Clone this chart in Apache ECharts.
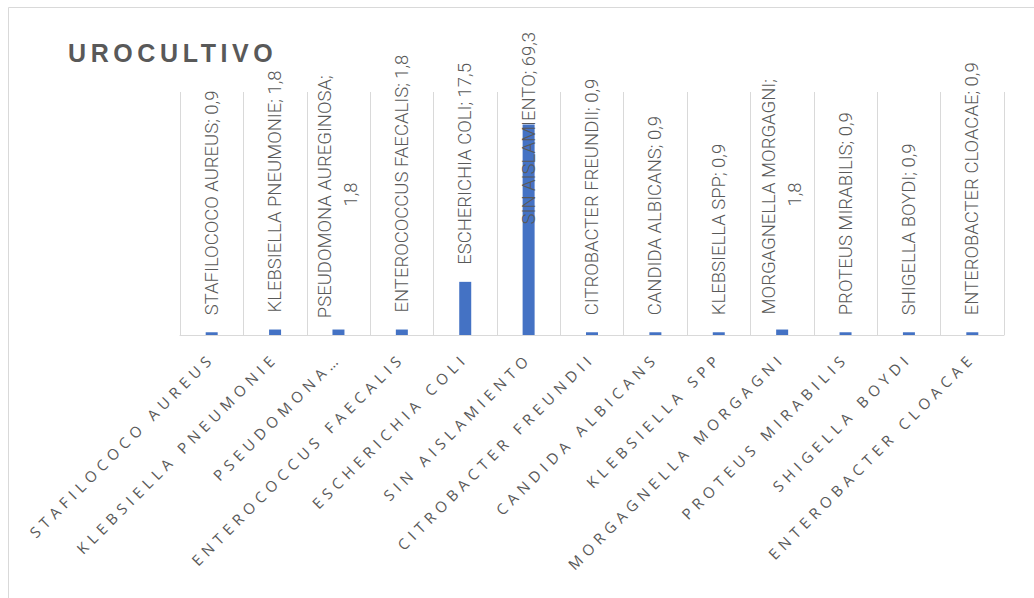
<!DOCTYPE html>
<html>
<head>
<meta charset="utf-8">
<script src="https://cdn.jsdelivr.net/npm/echarts@6/dist/echarts.min.js"></script>
<style>
html,body{margin:0;padding:0;background:#fff;}
#chart{width:1034px;height:598px;}
</style>
</head>
<body>
<div id="chart"></div>
<script>
// Data
const categories = ['STAFILOCOCO AUREUS','KLEBSIELLA PNEUMONIE','PSEUDOMONA AUREGINOSA','ENTEROCOCCUS FAECALIS','ESCHERICHIA COLI','SIN AISLAMIENTO','CITROBACTER FREUNDII','CANDIDA ALBICANS','KLEBSIELLA SPP','MORGAGNELLA MORGAGNI','PROTEUS MIRABILIS','SHIGELLA BOYDI','ENTEROBACTER CLOACAE'];
const tickLabels = ['STAFILOCOCO AUREUS','KLEBSIELLA PNEUMONIE','PSEUDOMONA…','ENTEROCOCCUS FAECALIS','ESCHERICHIA COLI','SIN AISLAMIENTO','CITROBACTER FREUNDII','CANDIDA ALBICANS','KLEBSIELLA SPP','MORGAGNELLA MORGAGNI','PROTEUS MIRABILIS','SHIGELLA BOYDI','ENTEROBACTER CLOACAE'];
const values = [0.9, 1.8, 1.8, 1.8, 17.5, 69.3, 0.9, 0.9, 0.9, 1.8, 0.9, 0.9, 0.9];
const titleText = 'UROCULTIVO';

const GRAY = '#595959';
const fmt = v => String(v).replace('.', ',');

const seriesData = values.map((v, i) => {
  const item = { value: v };
  if (categories[i] === 'SIN AISLAMIENTO') {
    item.label = { position: 'insideTop', distance: 100 };
  }
  if (categories[i] === 'PSEUDOMONA AUREGINOSA' || categories[i] === 'MORGAGNELLA MORGAGNI') {
    item.label = { width: 250, overflow: 'break', align: 'center', distance: 135, lineHeight: 26 };
  }
  return item;
});

const chart = echarts.init(document.getElementById('chart'), null, { renderer: 'svg' });
chart.setOption({
  animation: false,
  backgroundColor: '#fff',
  title: {
    text: titleText,
    left: 63, top: 35,
    textStyle: { fontFamily: 'Liberation Sans', fontWeight: 'bold', fontSize: 25, color: GRAY }
  },
  graphic: [{
    type: 'rect', silent: true,
    shape: { x: 8.5, y: 7.5, width: 1200, height: 800 },
    style: { fill: 'none', stroke: '#d9d9d9', lineWidth: 1 }
  }],
  grid: { left: 180, right: 30, top: 92, bottom: 263, containLabel: false },
  xAxis: {
    type: 'category',
    data: categories,
    axisLine: { show: true, lineStyle: { color: '#d9d9d9', width: 1 } },
    axisTick: { show: false },
    splitLine: { show: true, interval: 0, lineStyle: { color: '#d9d9d9', width: 1 } },
    axisLabel: {
      interval: 0, rotate: 45, margin: 20,
      color: GRAY, fontFamily: 'Open Sans', fontSize: 15,
      formatter: (val, idx) => tickLabels[idx]
    }
  },
  yAxis: {
    type: 'value', min: 0, max: 80, show: false,
    splitLine: { show: false }
  },
  series: [{
    type: 'bar',
    data: seriesData,
    barWidth: 12,
    itemStyle: { color: '#4472C4' },
    label: {
      show: true, position: 'top', distance: 17, rotate: 90,
      align: 'left', verticalAlign: 'middle',
      color: GRAY, fontFamily: 'Roboto', fontWeight: 300, fontSize: 18.5,
      formatter: p => p.name + '; ' + fmt(p.value)
    }
  }]
});

// letter spacing on tick labels and title (as in the reference)
const tickSet = new Set(tickLabels);
document.querySelectorAll('#chart text').forEach(t => {
  const s = t.textContent;
  if (tickSet.has(s)) t.style.letterSpacing = '5.2px';
  else if (s === titleText) t.style.letterSpacing = '4.6px';
});
</script>
</body>
</html>
